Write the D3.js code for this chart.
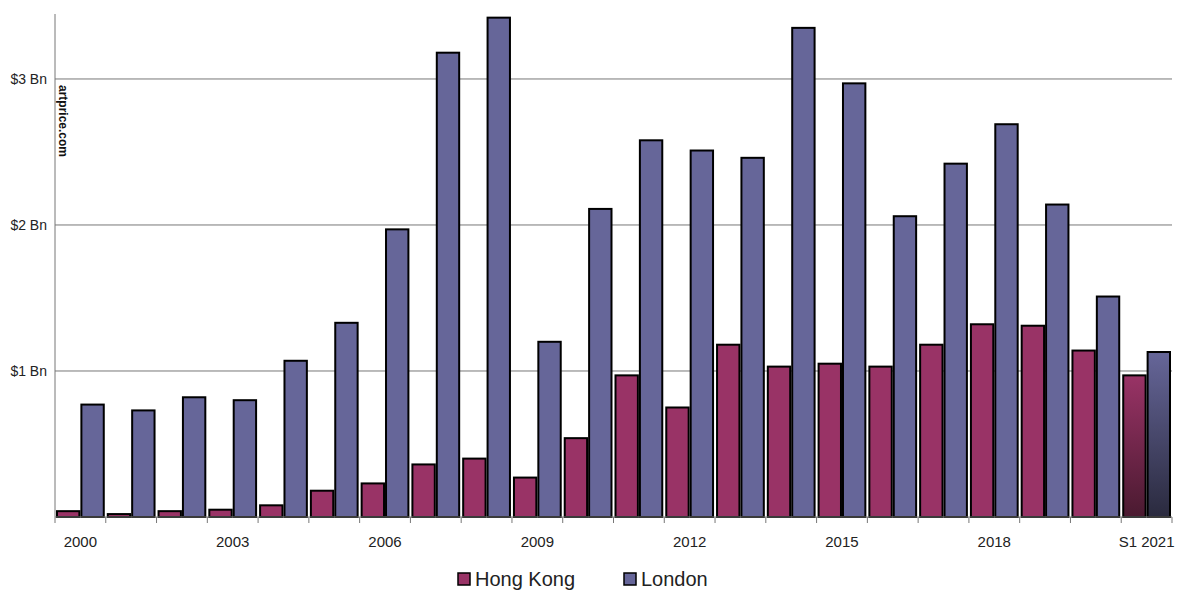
<!DOCTYPE html>
<html><head><meta charset="utf-8">
<script src="https://cdn.jsdelivr.net/npm/d3@7"></script>
<style>body{margin:0;background:#fff;font-family:"Liberation Sans",Arial,sans-serif}</style>
</head><body><div id="chart-area"></div>
<script>
var years = ["2000","2001","2002","2003","2004","2005","2006","2007","2008","2009","2010","2011","2012","2013","2014","2015","2016","2017","2018","2019","2020","S1 2021"];
var hongKong = [0.04,0.02,0.04,0.05,0.08,0.18,0.23,0.36,0.40,0.27,0.54,0.97,0.75,1.18,1.03,1.05,1.03,1.18,1.32,1.31,1.14,0.97];
var london = [0.77,0.73,0.82,0.80,1.07,1.33,1.97,3.18,3.42,1.20,2.11,2.58,2.51,2.46,3.35,2.97,2.06,2.42,2.69,2.14,1.51,1.13];
var yTicks = [1,2,3];
var shownLabels = ["2000","2003","2006","2009","2012","2015","2018","S1 2021"];

var margin = {left: 55, right: 28, top: 14, bottom: 90};
var width = 1200 - margin.left - margin.right;
var height = 607 - margin.top - margin.bottom;

var svg = d3.select("#chart-area").append("svg").attr("width",1200).attr("height",607);
var defs = svg.append("defs");
function grad(id, top, bottom){
  var lg = defs.append("linearGradient").attr("id",id).attr("x1",0).attr("x2",0).attr("y1",0).attr("y2",1);
  lg.append("stop").attr("offset","0%").attr("stop-color",top);
  lg.append("stop").attr("offset","100%").attr("stop-color",bottom);
}
grad("hkGrad","#993366","#4a1a30");
grad("lnGrad","#666699","#2a2a3e");

var g = svg.append("g").attr("transform","translate(" + margin.left + "," + margin.top + ")");

var x = d3.scaleBand().domain(years).range([0,width]);
var y = d3.scaleLinear().domain([0,3.445]).range([height,0]);

// gridlines
g.selectAll(".grid").data(yTicks).enter().append("line")
  .attr("x1",0).attr("x2",width).attr("y1",d => y(d)).attr("y2",d => y(d))
  .attr("stroke","#777").attr("stroke-width",1);

g.selectAll(".ylab").data(yTicks).enter().append("text")
  .attr("x",-8).attr("y",d => y(d)+5).attr("text-anchor","end")
  .attr("font-size","14px").attr("fill","#222").text(d => "$" + d + " Bn");

var bw = x.bandwidth();
var barW = (bw - 6) / 2;
var groups = g.selectAll(".yr").data(years).enter().append("g")
  .attr("transform", d => "translate(" + x(d) + ",0)");

groups.append("rect")
  .attr("x",2).attr("width",barW)
  .attr("y",(d,i) => y(hongKong[i])).attr("height",(d,i) => height - y(hongKong[i]))
  .attr("fill",(d,i) => i == years.length-1 ? "url(#hkGrad)" : "#993366")
  .attr("stroke","#000").attr("stroke-width",2);

groups.append("rect")
  .attr("x",2 + barW + 2).attr("width",barW)
  .attr("y",(d,i) => y(london[i])).attr("height",(d,i) => height - y(london[i]))
  .attr("fill",(d,i) => i == years.length-1 ? "url(#lnGrad)" : "#666699")
  .attr("stroke","#000").attr("stroke-width",2);

// axes lines
g.append("line").attr("x1",0).attr("x2",0).attr("y1",0).attr("y2",height).attr("stroke","#777");
g.append("line").attr("x1",0).attr("x2",width).attr("y1",height).attr("y2",height).attr("stroke","#777");
g.selectAll(".tick").data(years).enter().append("line")
  .attr("x1",d => x(d)+bw).attr("x2",d => x(d)+bw).attr("y1",height).attr("y2",height+6).attr("stroke","#777");
g.append("line").attr("x1",0).attr("x2",0).attr("y1",height).attr("y2",height+6).attr("stroke","#777");

g.selectAll(".xlab").data(shownLabels).enter().append("text")
  .attr("x",d => x(d)+bw/2).attr("y",height+30).attr("text-anchor","middle")
  .attr("font-size","15px").attr("fill","#222").text(d => d);

// watermark
g.append("text").attr("transform","translate(4," + (y(3)+6) + ") rotate(90)")
  .attr("font-size","12px").attr("font-weight","bold").attr("fill","#111").text("artprice.com");

// legend
var legend = svg.append("g").attr("transform","translate(458,573)");
[["Hong Kong","#993366",0],["London","#666699",166]].forEach(function(l){
  legend.append("rect").attr("x",l[2]).attr("y",0).attr("width",12).attr("height",12)
    .attr("fill",l[1]).attr("stroke","#000").attr("stroke-width",1.5);
  legend.append("text").attr("x",l[2]+17).attr("y",13).attr("font-size","20px").attr("fill","#222").text(l[0]);
});
</script>
</body></html>
